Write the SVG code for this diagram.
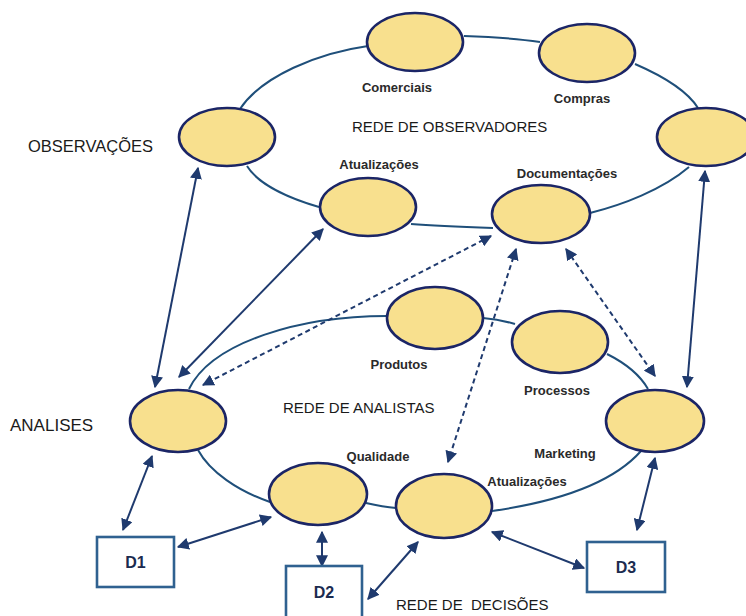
<svg xmlns="http://www.w3.org/2000/svg" width="746" height="616" viewBox="0 0 746 616">
  <style>
    .node { fill: #F8E08E; stroke: #1B2566; stroke-width: 2.6; }
    .ring { fill: none; stroke: #1F4F7A; stroke-width: 2; }
    .box { fill: #FFFFFF; stroke: #2F6190; stroke-width: 2.6; }
    .arrow { fill: none; stroke: #1F3A6E; stroke-width: 2; marker-start: url(#head); marker-end: url(#head); }
    .dash { stroke-dasharray: 5 3.5; }
    .big { font-family: "Liberation Sans", Arial, sans-serif; font-size: 15px; fill: #1A1A1A; white-space: pre; }
    .side { font-family: "Liberation Sans", Arial, sans-serif; font-size: 16.5px; fill: #1A1A1A; }
    .lbl { font-family: "Liberation Sans", Arial, sans-serif; font-size: 13px; font-weight: bold; fill: #2A2A2A; text-anchor: middle; }
    .dec { font-family: "Liberation Sans", Arial, sans-serif; font-size: 16px; font-weight: bold; fill: #1B2B4F; text-anchor: middle; }
  </style>
  <defs>
    <marker id="head" viewBox="0 0 10 10" refX="9" refY="5" markerWidth="6" markerHeight="6" orient="auto-start-reverse" markerUnits="strokeWidth">
      <path d="M0,0 L10,5 L0,10 z" fill="#1F3A6E"/>
    </marker>
  </defs>

  <rect width="746" height="616" fill="#FFFFFF"/>

  <!-- ring lines of the two networks -->
  <g id="rings">
    <path class="ring" d="M240,109 C262,76 318,53 368,46"/>
    <path class="ring" d="M464,36 C495,37 520,39 540,42"/>
    <path class="ring" d="M635,64 C665,77 688,92 698,108"/>
    <path class="ring" d="M689,167 C662,190 622,205 590,213"/>
    <path class="ring" d="M493,228 C465,227 437,226 411,224"/>
    <path class="ring" d="M319,207 C288,198 258,184 247,166"/>

    <path class="ring" d="M189,389 C212,342 300,316 387,316"/>
    <path class="ring" d="M483,318 C495,319 505,321 515,324"/>
    <path class="ring" d="M607,354 C625,363 640,375 648,389"/>
    <path class="ring" d="M641,451 C610,486 548,503 492,511"/>
    <path class="ring" d="M396,508 C385,507 375,505 366,503"/>
    <path class="ring" d="M270,502 C238,491 210,472 198,450"/>
  </g>

  <!-- connectors between the levels -->
  <g id="connectors">
    <line class="arrow" x1="198" y1="168" x2="155" y2="387"/>
    <line class="arrow" x1="323" y1="229" x2="179" y2="377"/>
    <line class="arrow" x1="705" y1="171" x2="687" y2="387"/>

    <line class="arrow dash" x1="491" y1="236" x2="203" y2="385"/>
    <line class="arrow dash" x1="516" y1="249" x2="448" y2="462"/>
    <line class="arrow dash" x1="566" y1="249" x2="655" y2="376"/>

    <line class="arrow" x1="152" y1="456" x2="123" y2="530"/>
    <line class="arrow" x1="178" y1="547" x2="271" y2="517"/>
    <line class="arrow" x1="322" y1="532" x2="322" y2="566"/>
    <line class="arrow" x1="418" y1="542" x2="368" y2="599"/>
    <line class="arrow" x1="492" y1="532" x2="584" y2="568"/>
    <line class="arrow" x1="655" y1="458" x2="637" y2="530"/>
  </g>

  <!-- observer network -->
  <g id="obs-comerciais"><ellipse class="node" cx="415" cy="42" rx="48" ry="29"/></g>
  <g id="obs-compras"><ellipse class="node" cx="587" cy="53" rx="48" ry="29"/></g>
  <g id="obs-direita"><ellipse class="node" cx="706" cy="137" rx="49" ry="29"/></g>
  <g id="obs-esquerda"><ellipse class="node" cx="227" cy="137" rx="48" ry="29"/></g>
  <g id="obs-atualizacoes"><ellipse class="node" cx="368" cy="207" rx="48" ry="29"/></g>
  <g id="obs-documentacoes"><ellipse class="node" cx="541" cy="214" rx="49" ry="29"/></g>

  <!-- analyst network -->
  <g id="an-analises"><ellipse class="node" cx="178" cy="421" rx="48" ry="31"/></g>
  <g id="an-produtos"><ellipse class="node" cx="435" cy="318" rx="48" ry="31"/></g>
  <g id="an-processos"><ellipse class="node" cx="560" cy="342" rx="48" ry="31"/></g>
  <g id="an-marketing"><ellipse class="node" cx="655" cy="421" rx="49" ry="31"/></g>
  <g id="an-qualidade"><ellipse class="node" cx="318" cy="494" rx="49" ry="31"/></g>
  <g id="an-atualizacoes"><ellipse class="node" cx="444" cy="506" rx="48" ry="32"/></g>

  <!-- decisions -->
  <g id="d1"><rect class="box" x="97" y="537" width="77" height="50"/><text class="dec" x="135.5" y="568">D1</text></g>
  <g id="d2"><rect class="box" x="286" y="566" width="76" height="60"/><text class="dec" x="324" y="598">D2</text></g>
  <g id="d3"><rect class="box" x="587" y="542" width="78" height="50"/><text class="dec" x="626" y="573">D3</text></g>

  <!-- labels -->
  <g id="labels">
    <text class="side" x="28" y="152">OBSERVAÇÕES</text>
    <text class="side" x="10" y="431" style="font-size:17px">ANALISES</text>
    <text class="big" x="352" y="132">REDE DE OBSERVADORES</text>
    <text class="big" x="283" y="413">REDE DE ANALISTAS</text>
    <text class="big" x="396" y="610">REDE DE  DECISÕES</text>

    <text class="lbl" x="397" y="92">Comerciais</text>
    <text class="lbl" x="582" y="103">Compras</text>
    <text class="lbl" x="379" y="169">Atualizações</text>
    <text class="lbl" x="567" y="178">Documentações</text>
    <text class="lbl" x="399" y="369">Produtos</text>
    <text class="lbl" x="557" y="395">Processos</text>
    <text class="lbl" x="378" y="461">Qualidade</text>
    <text class="lbl" x="565" y="458">Marketing</text>
    <text class="lbl" x="527" y="486">Atualizações</text>
  </g>
</svg>
